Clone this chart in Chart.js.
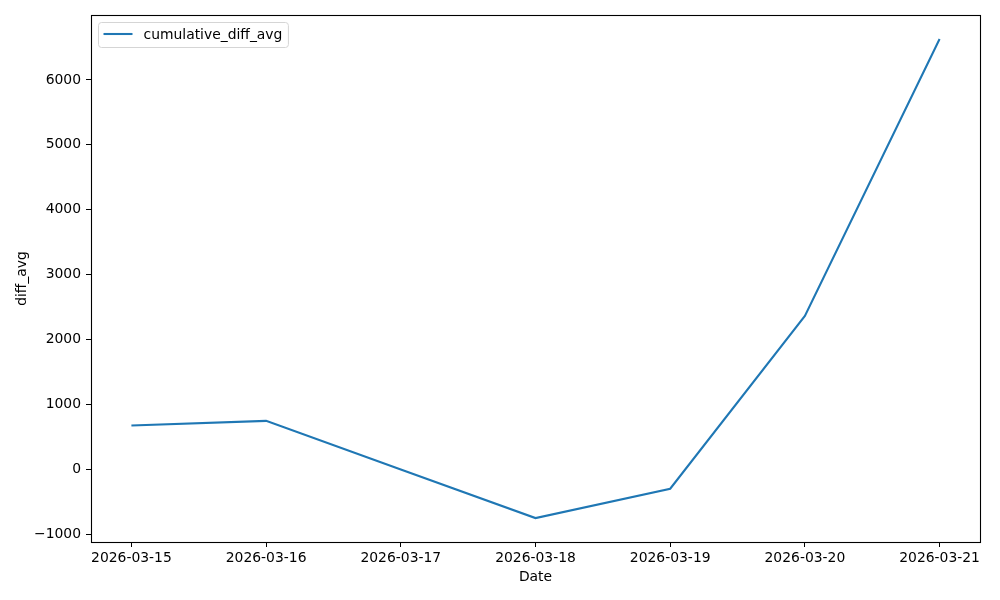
<!DOCTYPE html>
<html>
<head>
<meta charset="utf-8">
<script src="https://cdn.jsdelivr.net/npm/chart.js@4/dist/chart.umd.min.js"></script>
<style>
  html, body { margin: 0; padding: 0; background: #fff; }
  #wrap { width: 1000px; height: 600px; }
</style>
</head>
<body>
<div id="wrap"><canvas id="c" width="1000" height="600"></canvas></div>
<script>
// ---- data ----
const dates = ["2026-03-15", "2026-03-16", "2026-03-17", "2026-03-18", "2026-03-19", "2026-03-20", "2026-03-21"];
const cumulativeDiffAvg = [677, 749, 0, -748, -297, 2365, 6631];
const yTickValues = [-1000, 0, 1000, 2000, 3000, 4000, 5000, 6000];
const seriesLabel = "cumulative_diff_avg";
const xTitle = "Date";
const yTitle = "diff_avg";

// matplotlib-like 5% margins
const yMinD = Math.min(...cumulativeDiffAvg), yMaxD = Math.max(...cumulativeDiffAvg);
const yPad = (yMaxD - yMinD) * 0.05;
const xPad = (dates.length - 1) * 0.05;

const FONT = "DejaVu Sans";
const FS = 13.9;
const BLUE = "#1f77b4";

const frame = {
  id: 'frame',
  afterDraw(chart) {
    const {ctx, chartArea: a} = chart;
    ctx.save();
    ctx.strokeStyle = '#000';
    ctx.lineWidth = 1.1;
    ctx.strokeRect(Math.round(a.left) + 0.5, Math.round(a.top) + 0.5,
                   Math.round(a.right - a.left), Math.round(a.bottom - a.top));
    // legend
    const ds = chart.data.datasets[0];
    ctx.font = FS + "px '" + FONT + "'";
    const tw = ctx.measureText(ds.label).width;
    const bx = a.left + 7.5, by = a.top + 7.5;
    const bw = 45 + tw + 6, bh = 25;
    const r = 3;
    ctx.beginPath();
    ctx.moveTo(bx + r, by);
    ctx.lineTo(bx + bw - r, by);
    ctx.quadraticCurveTo(bx + bw, by, bx + bw, by + r);
    ctx.lineTo(bx + bw, by + bh - r);
    ctx.quadraticCurveTo(bx + bw, by + bh, bx + bw - r, by + bh);
    ctx.lineTo(bx + r, by + bh);
    ctx.quadraticCurveTo(bx, by + bh, bx, by + bh - r);
    ctx.lineTo(bx, by + r);
    ctx.quadraticCurveTo(bx, by, bx + r, by);
    ctx.closePath();
    ctx.fillStyle = 'rgba(255,255,255,0.8)';
    ctx.fill();
    ctx.strokeStyle = '#d5d5d5';
    ctx.lineWidth = 1;
    ctx.stroke();
    const ly = by + bh / 2 - 1;
    ctx.beginPath();
    ctx.moveTo(bx + 5, ly);
    ctx.lineTo(bx + 34, ly);
    ctx.strokeStyle = ds.borderColor;
    ctx.lineWidth = 2.08;
    ctx.stroke();
    ctx.fillStyle = '#000';
    ctx.textBaseline = 'middle';
    ctx.textAlign = 'left';
    ctx.fillText(ds.label, bx + 45, ly + 1);
    ctx.restore();
  }
};

new Chart(document.getElementById('c'), {
  type: 'line',
  data: {
    datasets: [{
      label: seriesLabel,
      data: cumulativeDiffAvg.map((v, i) => ({x: i, y: v})),
      borderColor: BLUE,
      backgroundColor: BLUE,
      borderWidth: 2.08,
      pointRadius: 0,
      pointHoverRadius: 0,
      tension: 0,
      fill: false
    }]
  },
  options: {
    responsive: false,
    animation: false,
    devicePixelRatio: 1,
    layout: { padding: { top: 15, right: 20, left: 0, bottom: 0 } },
    plugins: { legend: { display: false }, tooltip: { enabled: false } },
    scales: {
      x: {
        type: 'linear',
        min: -xPad,
        max: dates.length - 1 + xPad,
        afterBuildTicks(scale) { scale.ticks = dates.map((d, i) => ({value: i})); },
        afterFit(scale) { scale.height = 58; },
        ticks: {
          callback: (v) => dates[v],
          color: '#000',
          font: { family: FONT, size: FS },
          padding: 3,
          maxRotation: 0,
          autoSkip: false
        },
        grid: { drawOnChartArea: false, drawTicks: true, tickLength: 5, color: '#000', lineWidth: 1 },
        border: { display: false },
        title: { display: true, text: xTitle, color: '#000', font: { family: FONT, size: FS }, padding: { top: 0, bottom: 14.6 } }
      },
      y: {
        type: 'linear',
        min: yMinD - yPad,
        max: yMaxD + yPad,
        afterBuildTicks(scale) { scale.ticks = yTickValues.map(v => ({value: v})); },
        afterFit(scale) { scale.width = 91; },
        ticks: {
          callback: (v) => (v < 0 ? '\u2212' + Math.abs(v) : String(v)),
          color: '#000',
          font: { family: FONT, size: FS },
          padding: 5
        },
        grid: { drawOnChartArea: false, drawTicks: true, tickLength: 5, color: '#000', lineWidth: 1 },
        border: { display: false },
        title: { display: true, text: yTitle, color: '#000', font: { family: FONT, size: FS }, padding: { top: 13.6, bottom: 0 } }
      }
    }
  },
  plugins: [frame]
});
</script>
</body>
</html>
